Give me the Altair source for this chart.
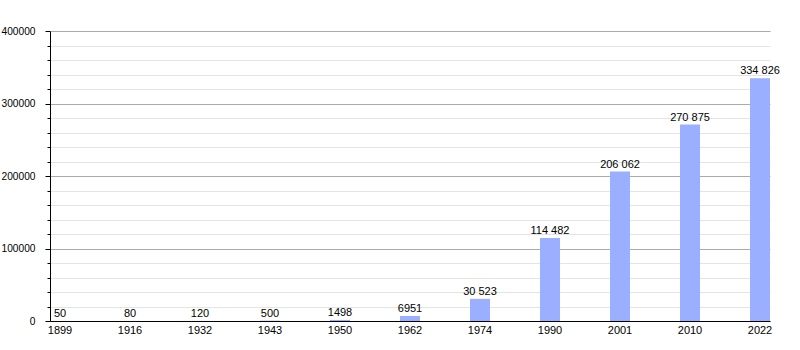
import altair as alt
import pandas as pd

years = ["1899", "1916", "1932", "1943", "1950", "1962", "1974", "1990", "2001", "2010", "2022"]
population = [50, 80, 120, 500, 1498, 6951, 30523, 114482, 206062, 270875, 334826]
labels = ["50", "80", "120", "500", "1498", "6951", "30 523", "114 482", "206 062", "270 875", "334 826"]
tick_values = list(range(0, 400001, 20000))

df = pd.DataFrame({"year": years, "pop": population, "label": labels})

x = alt.X("year:N", sort=years, title=None,
          scale=alt.Scale(paddingInner=50 / 70, paddingOuter=0),
          axis=alt.Axis(labelAngle=0, ticks=False, domainColor="#000", labelFont="Liberation Sans",
                        labelFontSize=11, labelColor="#000", labelPadding=3))
y = alt.Y("pop:Q", title=None,
          scale=alt.Scale(domain=[0, 400000], nice=False),
          axis=alt.Axis(values=tick_values, labelOverlap=False, tickCount=21,
                        labelExpr="datum.value % 100000 === 0 ? datum.value : ''",
                        gridColor={"condition": {"test": "datum.value % 100000 === 0", "value": "#aaaaaa"}, "value": "#e4e4e4"},
                        tickSize={"condition": {"test": "datum.value % 100000 === 0", "value": 5}, "value": 3},
                        tickColor="#000", domainColor="#000", labelFont="Liberation Sans",
                        labelFontSize=10.2, labelColor="#000", labelPadding=10))

bars = alt.Chart(df).mark_bar(color="#9aafff").encode(x=x, y=y)
text = alt.Chart(df).mark_text(baseline="bottom", dy=-2, font="Liberation Sans", fontSize=11, color="#000").encode(
    x=alt.X("year:N", sort=years), y="pop:Q", text="label:N")

chart = (bars + text).properties(
    width=720, height=290,
    autosize=alt.AutoSizeParams(type="none"),
    padding={"left": 50, "top": 31, "right": 30, "bottom": 29},
).configure_view(stroke=None).configure_axis(gridWidth=1)

chart.save("out.html", embed_options={"renderer": "svg", "actions": False})
